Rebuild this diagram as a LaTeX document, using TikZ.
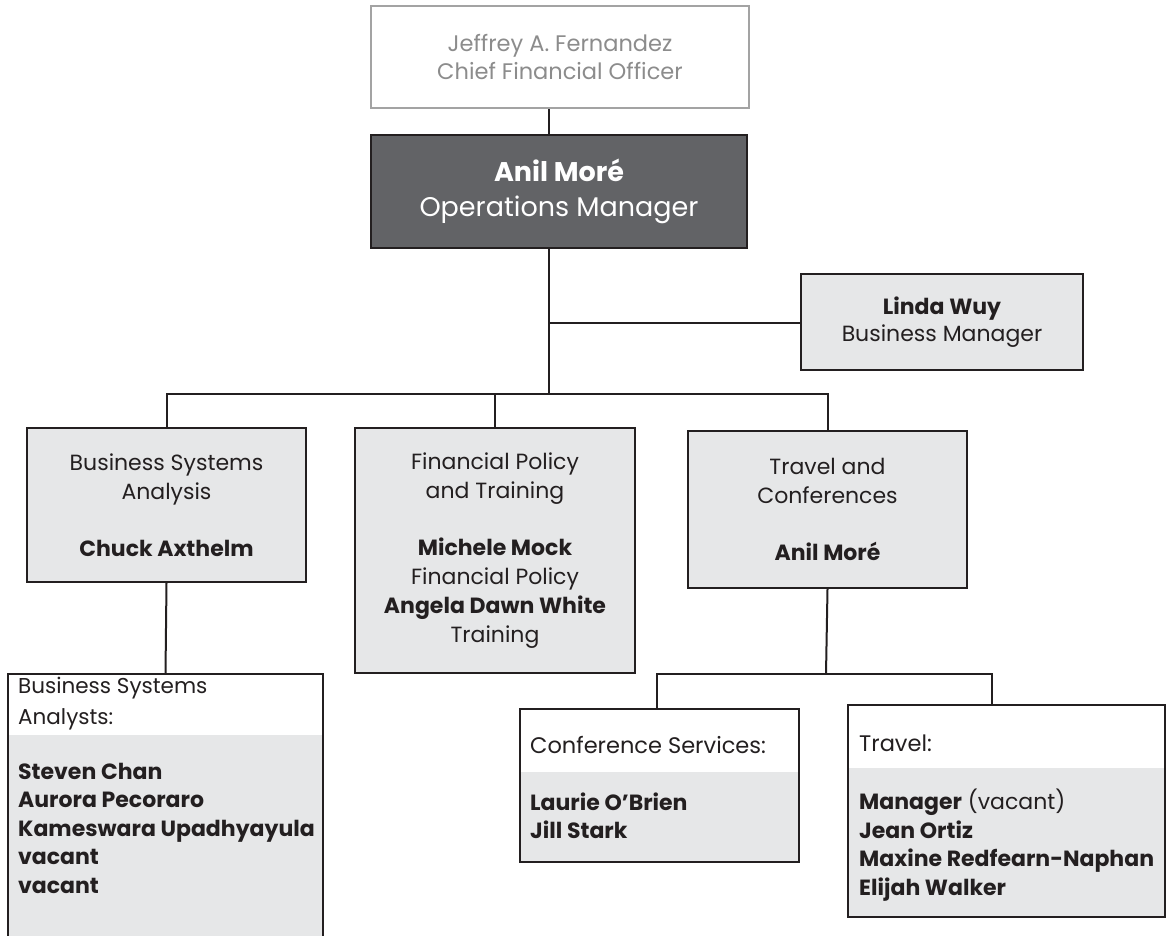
\documentclass[tikz,border=0pt]{standalone}
\usepackage{fontspec}
\setmainfont{Poppins}
\definecolor{darkfill}{HTML}{626366}
\definecolor{lightfill}{HTML}{E6E7E8}
\definecolor{inkdark}{HTML}{231F20}
\definecolor{cfogray}{HTML}{8C8C8C}
\definecolor{cfoline}{HTML}{A3A3A3}

\begin{document}
\begin{tikzpicture}[x=1pt,y=-1pt,
	unit/.style={draw=inkdark,line width=2pt,fill=lightfill,text=inkdark,inner sep=0pt,align=center,font=\fontsize{22}{29}\selectfont},
	listbox/.style={draw=inkdark,line width=1.8pt,fill=lightfill,inner sep=0pt},
	listtext/.style={anchor=west,align=left,inner sep=0pt,text=inkdark,font=\fontsize{22.5}{29}\selectfont},
	namelist/.style={listtext,font=\fontsize{22}{28.5}\selectfont},
	link/.style={draw=inkdark,line width=2pt}]
				\useasboundingbox (0,0) rectangle (1166,935);

				\node[unit,draw=cfoline,fill=white,text=cfogray,minimum width=378pt,minimum height=102pt,font=\fontsize{22.5}{28}\selectfont] (cfo) at (560,57) {Jeffrey A. Fernandez\\Chief Financial Officer};
				\node[unit,fill=darkfill,text=white,minimum width=376pt,minimum height=113pt,font=\fontsize{27}{35}\selectfont] (ops) at (559,191.5) {\textbf{Anil Moré}\\Operations Manager};
				\node[unit,minimum width=282pt,minimum height=96pt,font=\fontsize{22}{27}\selectfont] (linda) at (942,322) {\textbf{Linda Wuy}\\Business Manager};

				\node[unit,minimum width=279pt,minimum height=154pt] (bsa) at (166.5,505) {Business Systems\\Analysis\\[28pt]\textbf{Chuck Axthelm}};
				\node[unit,minimum width=280pt,minimum height=245pt] (fpt) at (495,550.5) {Financial Policy\\and Training\\[28pt]\textbf{Michele Mock}\\Financial Policy\\\textbf{Angela Dawn White}\\Training};
				\node[unit,minimum width=279pt,minimum height=157pt] (tc) at (827.5,509.5) {Travel and\\Conferences\\[28pt]\textbf{Anil Moré}};

				\node[listbox,minimum width=315pt,minimum height=290pt] (anl) at (165.5,819) {};
				\fill[white] (9,675) rectangle (322,735);
				\node[listtext,font=\fontsize{21.5}{31}\selectfont] (anlhead) at (18,704) {Business Systems\\Analysts:};
				\node[namelist] (anlnames) at (18,828) {\textbf{Steven Chan}\\\textbf{Aurora Pecoraro}\\\textbf{Kameswara Upadhyayula}\\\textbf{vacant}\\\textbf{vacant}};

				\node[listbox,minimum width=279pt,minimum height=153pt] (conf) at (659.5,785.5) {};
				\fill[white] (521,710) rectangle (798,772);
				\node[listtext] (confhead) at (530,745) {Conference Services:};
				\node[namelist] (confnames) at (530,816) {\textbf{Laurie O’Brien}\\\textbf{Jill Stark}};

				\node[listbox,minimum width=317pt,minimum height=212pt] (trav) at (1006.5,811) {};
				\fill[white] (849,706) rectangle (1164,768);
				\node[listtext] (travhead) at (859,743) {Travel:};
				\node[namelist] (travnames) at (859,845) {\textbf{Manager} (vacant)\\\textbf{Jean Ortiz}\\\textbf{Maxine Redfearn-Naphan}\\\textbf{Elijah Walker}};

				\coordinate (hub) at (549,394);
				\coordinate (lindajoin) at (549,323);
				\coordinate (subhub) at (826,674);
				\coordinate (confjoin) at (657,674);
				\coordinate (travjoin) at (992,674);

				\draw[link] (cfo.south -| hub) -- (ops.north -| hub);
				\draw[link] (ops.south -| hub) -- (hub);
				\draw[link] (lindajoin) -- (linda.west |- lindajoin);
				\draw[link] (bsa.north) -- (bsa.north |- hub) -- (tc.north |- hub) -- (tc.north);
				\draw[link] (fpt.north) -- (fpt.north |- hub);
				\draw[link] (bsa.south) -- (anl.north);
				\draw[link] (tc.south) -- (subhub);
				\draw[link] (confjoin |- conf.north) -- (confjoin) -- (travjoin) -- (travjoin |- trav.north);
			\end{tikzpicture}
\end{document}
